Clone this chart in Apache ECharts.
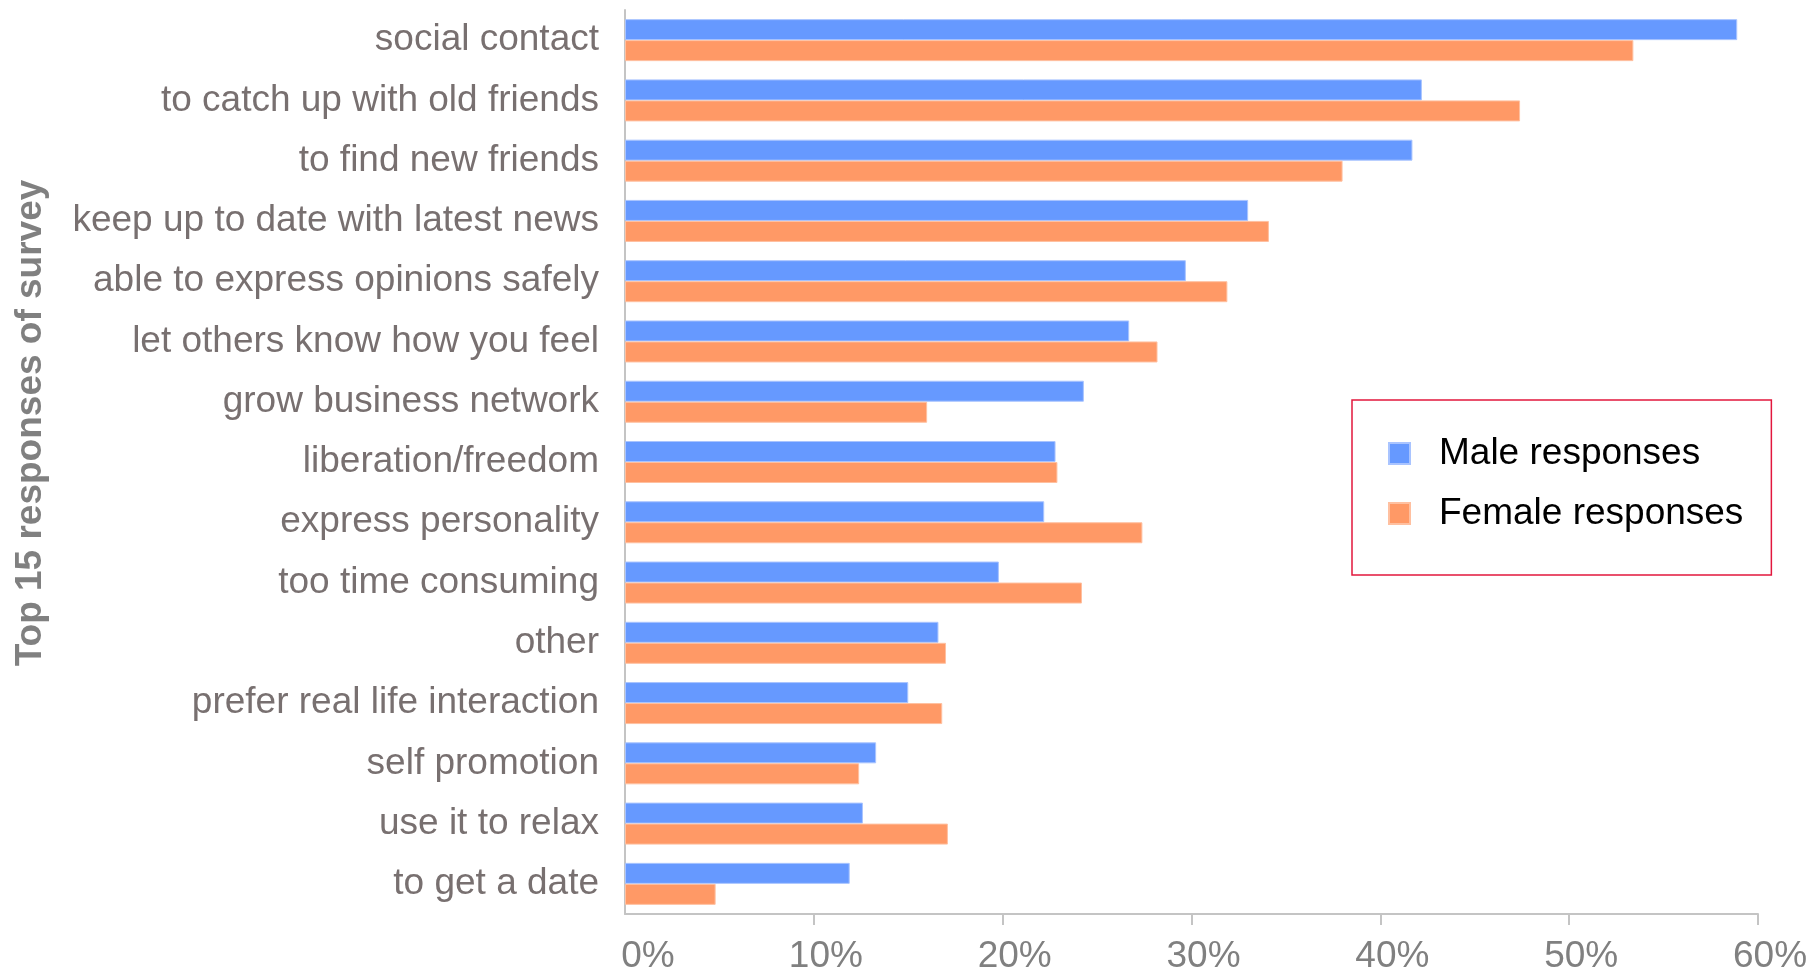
<!DOCTYPE html>
<html>
<head>
<meta charset="utf-8">
<script src="https://cdn.jsdelivr.net/npm/echarts@6/dist/echarts.min.js"></script>
<style>
  html, body { margin: 0; padding: 0; background: #ffffff; }
  #chart { width: 1816px; height: 970px; }
</style>
</head>
<body>
<div id="chart"></div>
<script>
// Survey answers, listed top to bottom
const categories = [
  'social contact',
  'to catch up with old friends',
  'to find new friends',
  'keep up to date with latest news',
  'able to express opinions safely',
  'let others know how you feel',
  'grow business network',
  'liberation/freedom',
  'express personality',
  'too time consuming',
  'other',
  'prefer real life interaction',
  'self promotion',
  'use it to relax',
  'to get a date'
];

// Share of respondents (%) per answer
const maleValues = [58.9, 42.2, 41.7, 33.0, 29.7, 26.7, 24.3, 22.8, 22.2, 19.8, 16.6, 15.0, 13.3, 12.6, 11.9];
const femaleValues = [53.4, 47.4, 38.0, 34.1, 31.9, 28.2, 16.0, 22.9, 27.4, 24.2, 17.0, 16.8, 12.4, 17.1, 4.8];

const seriesNames = ['Male responses', 'Female responses'];
const percentTicks = [0, 10, 20, 30, 40, 50, 60];
const axisTitle = 'Top 15 responses of survey';

const chart = echarts.init(document.getElementById('chart'), null, { renderer: 'canvas' });

const font = 'Arial, "Liberation Sans", Helvetica, sans-serif';

chart.setOption({
  animation: false,
  backgroundColor: '#ffffff',
  textStyle: { fontFamily: font },
  grid: {
    left: 625, right: 58, top: 10, bottom: 56,
    containLabel: false,
    outerBoundsMode: 'none'
  },
  legend: {
    orient: 'vertical',
    left: 1352,
    top: 400,
    data: seriesNames,
    backgroundColor: '#ffffff',
    borderColor: '#e2173d',
    borderWidth: 1.5,
    padding: [35, 28, 43, 36],
    itemWidth: 21,
    itemHeight: 21,
    itemGap: 23,
    icon: 'rect',
    textStyle: { fontSize: 37, color: '#000000', fontFamily: font, padding: [0, 0, 0, 24] }
  },
  xAxis: {
    type: 'value',
    min: percentTicks[0],
    max: percentTicks[percentTicks.length - 1],
    interval: 10,
    axisLine: { show: true, lineStyle: { color: '#c4c4c4', width: 2 } },
    axisTick: {
      show: true,
      length: 11,
      customValues: percentTicks.slice(1),
      lineStyle: { color: '#c4c4c4', width: 2 }
    },
    splitLine: { show: false },
    axisLabel: {
      customValues: percentTicks,
      formatter: v => (v === 0 ? '{z|' + v + '%}' : v + '%'),
      fontSize: 37,
      color: '#808080',
      margin: 24,
      padding: [0, 0, 0, 24],
      fontFamily: font,
      rich: {
        z: { fontSize: 37, color: '#808080', fontFamily: font, padding: [0, 0, 0, 22] }
      }
    }
  },
  yAxis: {
    type: 'category',
    data: categories,
    inverse: true,
    axisLine: { show: true, lineStyle: { color: '#c4c4c4', width: 2 } },
    axisTick: { show: false },
    axisLabel: {
      fontSize: 37,
      color: '#787070',
      margin: 26,
      fontFamily: font
    }
  },
  series: [
    {
      name: seriesNames[0],
      type: 'bar',
      data: maleValues,
      barWidth: 21,
      barGap: '0%',
      itemStyle: { color: '#6699ff', borderColor: '#a9c4ff', borderWidth: 1 }
    },
    {
      name: seriesNames[1],
      type: 'bar',
      data: femaleValues,
      barWidth: 21,
      barGap: '0%',
      itemStyle: { color: '#ff9966', borderColor: '#ffc0a0', borderWidth: 1 }
    }
  ],
  graphic: [
    {
      type: 'text',
      x: 31,
      y: 423,
      rotation: Math.PI / 2,
      style: {
        text: axisTitle,
        fontSize: 37,
        fontWeight: 'bold',
        fill: '#808080',
        fontFamily: font,
        align: 'center',
        verticalAlign: 'middle'
      }
    }
  ]
});
</script>
</body>
</html>
